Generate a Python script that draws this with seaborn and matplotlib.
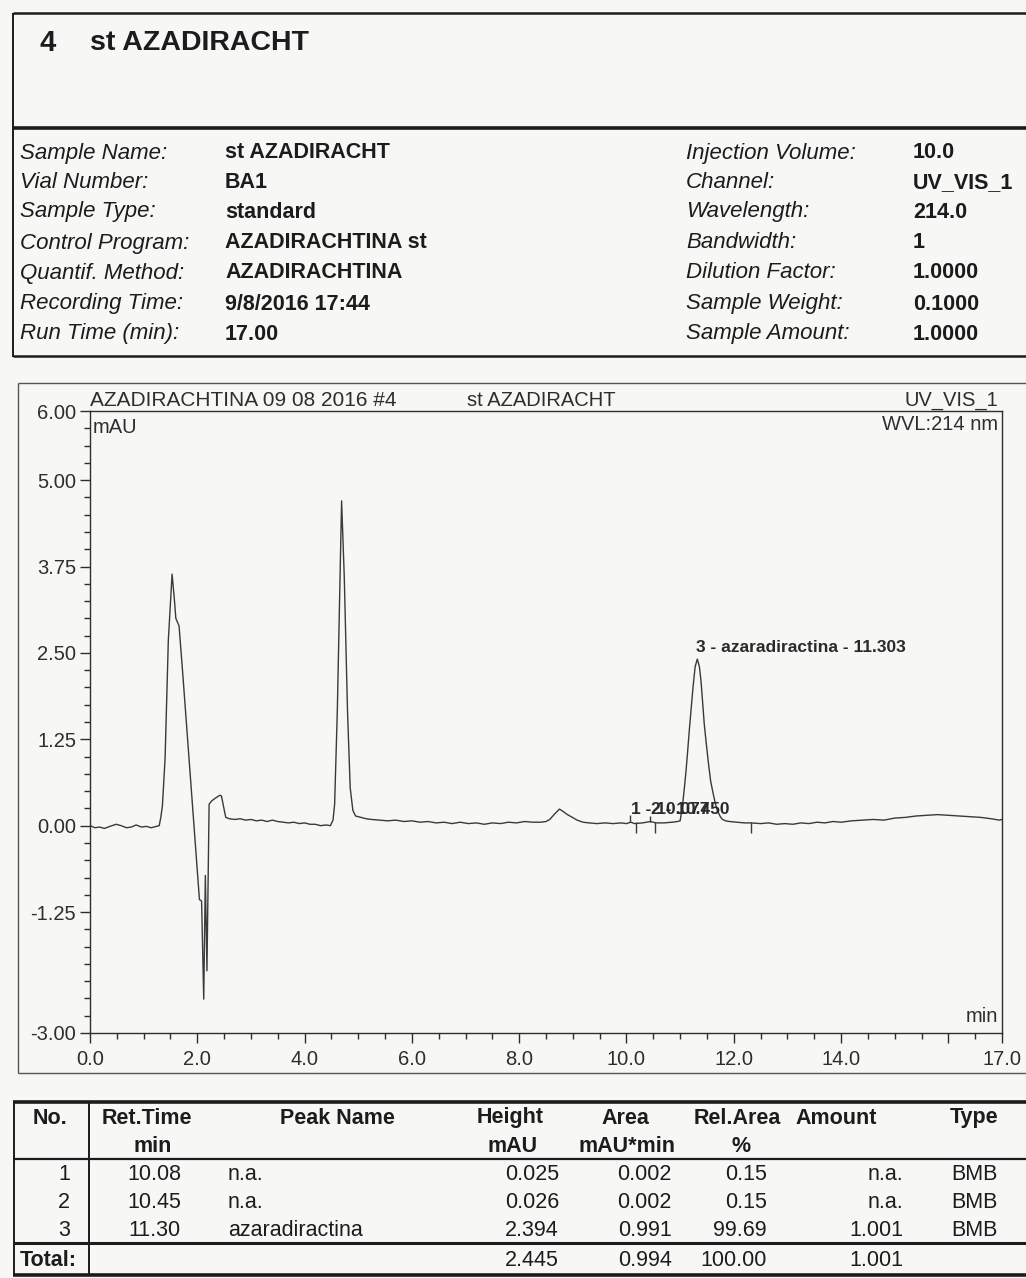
import matplotlib
matplotlib.use("Agg")
import matplotlib.pyplot as plt
from matplotlib.lines import Line2D
from matplotlib.ticker import FixedLocator, MultipleLocator
import seaborn as sns
import pandas as pd

# ---------------- report header ----------------
report_number = "4"
report_title = "st AZADIRACHT"
left_labels = ["Sample Name:", "Vial Number:", "Sample Type:", "Control Program:",
               "Quantif. Method:", "Recording Time:", "Run Time (min):"]
left_values = ["st AZADIRACHT", "BA1", "standard", "AZADIRACHTINA st",
               "AZADIRACHTINA", "9/8/2016 17:44", "17.00"]
right_labels = ["Injection Volume:", "Channel:", "Wavelength:", "Bandwidth:",
                "Dilution Factor:", "Sample Weight:", "Sample Amount:"]
right_values = ["10.0", "UV_VIS_1", "214.0", "1", "1.0000", "0.1000", "1.0000"]

# ---------------- chromatogram (UV_VIS_1, 214 nm) ----------------
time_min = [0.02, 0.09, 0.18, 0.27, 0.37, 0.49, 0.58, 0.68, 0.77, 0.86, 0.96, 1.05, 1.14, 1.24, 1.29,
            1.32, 1.35, 1.40, 1.46, 1.53, 1.57, 1.60, 1.66, 1.73, 2.04, 2.08, 2.12, 2.15, 2.18, 2.22,
            2.27, 2.34, 2.42, 2.45, 2.53,
            2.60, 2.70, 2.80, 2.90, 3.00, 3.10, 3.20, 3.30, 3.40, 3.50, 3.60, 3.70, 3.80, 3.90, 4.00,
            4.10, 4.20, 4.30, 4.40, 4.48,
            4.53, 4.56, 4.61, 4.66, 4.69, 4.74, 4.80, 4.85, 4.90, 4.95, 5.05, 5.15,
            5.25, 5.40, 5.55, 5.70, 5.85, 6.00, 6.15, 6.30, 6.45, 6.60, 6.75, 6.90, 7.05, 7.20, 7.35,
            7.50, 7.65, 7.80, 7.95, 8.10, 8.25, 8.40, 8.50,
            8.57, 8.65, 8.75, 8.81, 8.90, 8.97, 9.08, 9.19, 9.30, 9.45, 9.60, 9.75, 9.90, 10.00,
            10.08, 10.15, 10.30, 10.45, 10.55, 10.70, 10.85, 10.95, 11.00,
            11.04, 11.08, 11.11, 11.14, 11.17, 11.21, 11.24, 11.28, 11.32, 11.36, 11.39, 11.42, 11.45,
            11.49, 11.53, 11.57, 11.62, 11.66, 11.70, 11.75, 11.79, 11.85, 11.92,
            12.05, 12.20, 12.32, 12.50, 12.65, 12.80, 12.95, 13.10, 13.25, 13.40, 13.55, 13.70, 13.85,
            14.00, 14.20, 14.40, 14.60, 14.80, 15.00, 15.20, 15.40, 15.60, 15.80, 16.00, 16.20, 16.40,
            16.60, 16.80, 16.95, 17.00]
signal_mau = [-0.005, -0.03, -0.02, -0.04, -0.01, 0.02, 0.00, -0.03, -0.02, 0.01, -0.02, -0.01, -0.03, -0.01, 0.00,
              0.12, 0.29, 0.98, 2.68, 3.64, 3.30, 3.00, 2.89, 2.19, -1.07, -1.09, -2.51, -0.72, -2.10, 0.31,
              0.36, 0.40, 0.44, 0.43, 0.12,
              0.10, 0.09, 0.10, 0.08, 0.09, 0.07, 0.08, 0.06, 0.08, 0.06, 0.05, 0.04, 0.05, 0.03, 0.04,
              0.02, 0.02, 0.00, 0.01, 0.00,
              0.08, 0.31, 1.66, 3.59, 4.70, 3.59, 1.66, 0.55, 0.22, 0.14, 0.12, 0.10,
              0.09, 0.08, 0.07, 0.08, 0.06, 0.07, 0.05, 0.06, 0.04, 0.05, 0.03, 0.05, 0.03, 0.04, 0.02,
              0.04, 0.03, 0.05, 0.04, 0.06, 0.05, 0.05, 0.06,
              0.09, 0.16, 0.24, 0.21, 0.16, 0.13, 0.08, 0.05, 0.04, 0.03, 0.04, 0.03, 0.04, 0.03,
              0.05, 0.03, 0.04, 0.06, 0.04, 0.04, 0.05, 0.06, 0.07,
              0.26, 0.55, 0.79, 1.07, 1.37, 1.72, 2.00, 2.30, 2.41, 2.30, 2.09, 1.78, 1.47,
              1.17, 0.89, 0.64, 0.45, 0.31, 0.21, 0.13, 0.09, 0.07, 0.06,
              0.05, 0.04, 0.04, 0.03, 0.04, 0.02, 0.03, 0.02, 0.04, 0.03, 0.05, 0.04, 0.06,
              0.05, 0.07, 0.08, 0.09, 0.08, 0.11, 0.12, 0.14, 0.15, 0.16, 0.15, 0.14, 0.13,
              0.12, 0.10, 0.08, 0.09]

# peak labels: retention time, label text, label baseline height (mAU)
label_times = [10.077, 10.450, 11.303]
label_texts = ["1 - 10.077", "2 - 10.450", "3 - azaradiractina - 11.303"]
label_heights = [0.13, 0.13, 2.47]

# integration delimiters: time, tick end (positive = up, negative = down)
delim_times = [10.07, 10.18, 10.43, 10.54, 12.32]
delim_ends = [0.15, -0.10, 0.14, -0.10, -0.10]

x_major = [0, 2, 4, 6, 8, 10, 12, 14, 16, 17]
x_major_labels = ["0.0", "2.0", "4.0", "6.0", "8.0", "10.0", "12.0", "14.0", "", "17.0"]
y_major = [-3.00, -1.25, 0.00, 1.25, 2.50, 3.75, 5.00, 6.00]
y_major_labels = ["-3.00", "-1.25", "0.00", "1.25", "2.50", "3.75", "5.00", "6.00"]

# ---------------- peak table ----------------
peak_no = ["1", "2", "3"]
ret_time = [10.08, 10.45, 11.30]
peak_name = ["n.a.", "n.a.", "azaradiractina"]
height_mau = [0.025, 0.026, 2.394]
area_mau_min = [0.002, 0.002, 0.991]
rel_area_pct = [0.15, 0.15, 99.69]
amount = ["n.a.", "n.a.", "1.001"]
peak_type = ["BMB", "BMB", "BMB"]
total_height = 2.445
total_area = 0.994
total_rel_area = 100.00
total_amount = "1.001"

# ---------------- figure ----------------
sns.set_style("ticks")
plt.rcParams["font.family"] = ["Liberation Sans", "DejaVu Sans"]
INK = "#1c1c1c"
PAPER = "#f7f7f6"

W, H = 1026, 1278
fig = plt.figure(figsize=(W / 100, H / 100), dpi=100, facecolor=PAPER)


def fx(x):
    return x / W


def fy(y):
    return 1 - y / H


def hline(y, x0, x1, lw=1.0, color=INK):
    fig.add_artist(Line2D([fx(x0), fx(x1)], [fy(y), fy(y)], transform=fig.transFigure,
                          lw=lw, color=color, solid_capstyle="butt"))


def vline(x, y0, y1, lw=1.0, color=INK):
    fig.add_artist(Line2D([fx(x), fx(x)], [fy(y0), fy(y1)], transform=fig.transFigure,
                          lw=lw, color=color, solid_capstyle="butt"))


def txt(x, y, s, **kw):
    kw.setdefault("color", INK)
    kw.setdefault("va", "center")
    fig.text(fx(x), fy(y), s, **kw)


# header block
hline(13, 13, 1026, lw=1.8)
vline(13, 13, 357, lw=1.4)
hline(128, 13, 1026, lw=2.6)
hline(356, 13, 1026, lw=1.8)
txt(40, 43, report_number, fontsize=21, fontweight="bold")
txt(90, 43, report_title, fontsize=20.5, fontweight="bold")

row_y = [153, 183, 212, 243, 273, 304, 334]
for y, lab, val in zip(row_y, left_labels, left_values):
    txt(20, y, lab, fontsize=16, style="italic")
    txt(225, y, val, fontsize=15.5, fontweight="bold")
for y, lab, val in zip(row_y, right_labels, right_values):
    txt(686, y, lab, fontsize=16, style="italic")
    txt(913, y, val, fontsize=15.5, fontweight="bold")

# chromatogram frame
CH = "#2e2e2e"
hline(383, 18, 1026, lw=1.0, color="#555555")
vline(18, 383, 1073, lw=1.0, color="#555555")
hline(1073, 18, 1026, lw=1.0, color="#555555")

ax_l, ax_r, ax_t, ax_b = 90, 1002, 411, 1033
ax = fig.add_axes([fx(ax_l), fy(ax_b), fx(ax_r - ax_l), (ax_b - ax_t) / H])
ax.set_facecolor("none")

chrom = pd.DataFrame({"time": time_min, "signal": signal_mau})
sns.lineplot(data=chrom, x="time", y="signal", ax=ax, color="#3a3a3a", lw=1.0,
             estimator=None, sort=False)

# peak labels sit at their retention times (labels 1 and 2 run into each other)
for t, s, h in zip(label_times, label_texts, label_heights):
    ax.text(t, h, s, fontsize=12.5, fontweight="bold", color="#2a2a2a",
            ha="left", va="bottom")
for t, e in zip(delim_times, delim_ends):
    ax.vlines(t, 0.05, e, color="#3a3a3a", lw=1.0)

ax.set_xlim(0, 17)
ax.set_ylim(-3, 6)
ax.xaxis.set_major_locator(FixedLocator(x_major))
ax.xaxis.set_minor_locator(MultipleLocator(0.5))
ax.yaxis.set_major_locator(FixedLocator(y_major))
ax.yaxis.set_minor_locator(MultipleLocator(0.25))
ax.set_xticklabels(x_major_labels)
ax.set_yticklabels(y_major_labels)
ax.set_xlabel("")
ax.set_ylabel("")
for sp in ax.spines.values():
    sp.set_visible(True)
    sp.set_color(CH)
    sp.set_linewidth(1.0)
ax.tick_params(axis="both", which="major", direction="out", length=7, width=1.0,
               color=CH, labelsize=14.5, labelcolor=CH, pad=3)
ax.tick_params(axis="both", which="minor", direction="out", length=4, width=1.0, color=CH)
ax.tick_params(axis="x", which="major", pad=5)

txt(90, 400, "AZADIRACHTINA 09 08 2016 #4", fontsize=15, color=CH)
txt(467, 400, "st AZADIRACHT", fontsize=14.5, color=CH)
txt(998, 400, "UV_VIS_1", fontsize=14.5, color=CH, ha="right")
txt(998, 425, "WVL:214 nm", fontsize=14.5, color=CH, ha="right")
txt(93, 427, "mAU", fontsize=14.5, color=CH)
txt(998, 1017, "min", fontsize=14.5, color=CH, ha="right")

# peak table
hline(1102, 13, 1026, lw=2.6)
vline(14, 1102, 1275, lw=1.4)
vline(89, 1102, 1275, lw=1.4)
hline(1159, 13, 1026, lw=1.6)
hline(1243, 13, 1026, lw=2.2)
hline(1275, 13, 1026, lw=2.6)

TS = 15.5
hdr1, hdr2 = 1118, 1146
txt(50, hdr1, "No.", fontsize=TS, fontweight="bold", ha="center")
txt(147, hdr1, "Ret.Time", fontsize=TS, fontweight="bold", ha="center")
txt(153, hdr2, "min", fontsize=TS, fontweight="bold", ha="center")
txt(337, hdr1, "Peak Name", fontsize=TS, fontweight="bold", ha="center")
txt(510, hdr1, "Height", fontsize=TS, fontweight="bold", ha="center")
txt(513, hdr2, "mAU", fontsize=TS, fontweight="bold", ha="center")
txt(625, hdr1, "Area", fontsize=TS, fontweight="bold", ha="center")
txt(627, hdr2, "mAU*min", fontsize=TS, fontweight="bold", ha="center")
txt(737, hdr1, "Rel.Area", fontsize=TS, fontweight="bold", ha="center")
txt(741, hdr2, "%", fontsize=TS, fontweight="bold", ha="center")
txt(836, hdr1, "Amount", fontsize=TS, fontweight="bold", ha="center")
txt(998, hdr1, "Type", fontsize=TS, fontweight="bold", ha="right")

rows_y = [1175, 1203, 1231]
for i, y in enumerate(rows_y):
    txt(70, y, peak_no[i], fontsize=TS, ha="right")
    txt(181, y, f"{ret_time[i]:.2f}", fontsize=TS, ha="right")
    txt(228, y, peak_name[i], fontsize=TS, ha="left")
    txt(559, y, f"{height_mau[i]:.3f}", fontsize=TS, ha="right")
    txt(672, y, f"{area_mau_min[i]:.3f}", fontsize=TS, ha="right")
    txt(767, y, f"{rel_area_pct[i]:.2f}", fontsize=TS, ha="right")
    txt(903, y, amount[i], fontsize=TS, ha="right")
    txt(998, y, peak_type[i], fontsize=TS, ha="right")

ty = 1261
txt(20, ty, "Total:", fontsize=TS, fontweight="bold", ha="left")
txt(559, ty, f"{total_height:.3f}", fontsize=TS, ha="right")
txt(672, ty, f"{total_area:.3f}", fontsize=TS, ha="right")
txt(767, ty, f"{total_rel_area:.2f}", fontsize=TS, ha="right")
txt(903, ty, total_amount, fontsize=TS, ha="right")

fig.savefig("out.png", dpi=100, facecolor=PAPER)
